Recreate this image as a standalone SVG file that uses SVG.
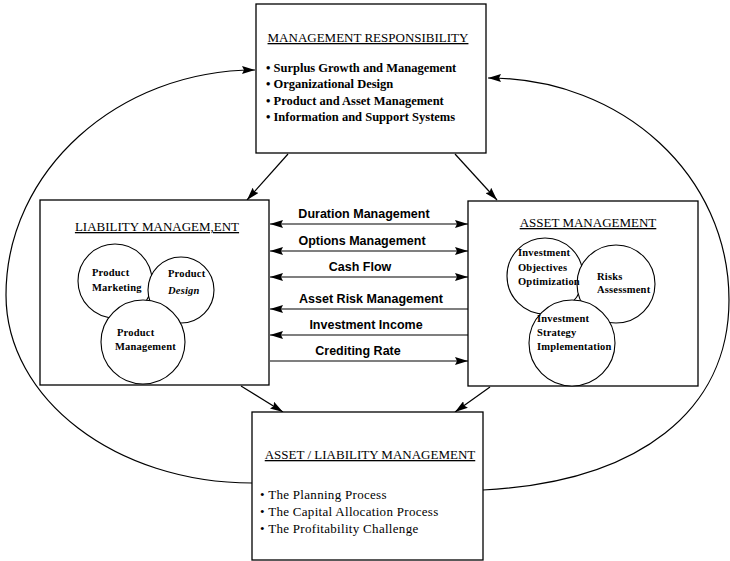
<svg xmlns="http://www.w3.org/2000/svg" width="730" height="561" viewBox="0 0 730 561">
<defs>
<marker id="ah" viewBox="0 0 13 8" refX="13" refY="4" markerWidth="13" markerHeight="8" markerUnits="userSpaceOnUse" orient="auto-start-reverse">
<path d="M0,0 L13,4 L0,8 L2,4 Z" fill="#000"/>
</marker>
<style>
.box{fill:#fff;stroke:#000;stroke-width:1.3}
.circ{fill:#fff;stroke:#000;stroke-width:1.1}
.ttl{font-family:"Liberation Serif",serif;font-size:13px;text-decoration:underline;fill:#000}
.bul{font-family:"Liberation Serif",serif;font-size:12.5px;font-weight:bold;fill:#000}
.bul2{font-family:"Liberation Serif",serif;font-size:13px;letter-spacing:0.3px;fill:#000}
.ct{font-family:"Liberation Serif",serif;font-size:10.5px;letter-spacing:0.2px;font-weight:bold;fill:#000}
.lbl{font-family:"Liberation Sans",Arial,sans-serif;font-size:12.5px;font-weight:bold;fill:#000;text-anchor:middle}
.ln{stroke:#000;stroke-width:1.2;fill:none}
</style>
</defs>
<rect width="730" height="561" fill="#fff"/>

<g id="connectors">
<path class="ln" d="M252,483 C116,483 6,399 6,295 C6,171 118,70 255,70" marker-end="url(#ah)"/>
<path class="ln" d="M483,490 C640,482 729,410 729,300 C729,176 623,78 488,78" marker-end="url(#ah)"/>
<line class="ln" x1="288" y1="154" x2="247" y2="200" marker-end="url(#ah)"/>
<line class="ln" x1="455" y1="154" x2="497" y2="200" marker-end="url(#ah)"/>
<line class="ln" x1="241" y1="386" x2="283" y2="412" marker-end="url(#ah)"/>
<line class="ln" x1="490" y1="387" x2="455" y2="412" marker-end="url(#ah)"/>
<line class="ln" x1="270" y1="224" x2="468" y2="224" marker-start="url(#ah)" marker-end="url(#ah)"/>
<line class="ln" x1="270" y1="251" x2="468" y2="251" marker-start="url(#ah)" marker-end="url(#ah)"/>
<line class="ln" x1="270" y1="277" x2="468" y2="277" marker-start="url(#ah)" marker-end="url(#ah)"/>
<line class="ln" x1="468" y1="309" x2="270" y2="309" marker-end="url(#ah)"/>
<line class="ln" x1="468" y1="335" x2="270" y2="335" marker-end="url(#ah)"/>
<line class="ln" x1="270" y1="361" x2="468" y2="361" marker-end="url(#ah)"/>
<text class="lbl" x="364" y="218">Duration Management</text>
<text class="lbl" x="362" y="245">Options Management</text>
<text class="lbl" x="360" y="271">Cash Flow</text>
<text class="lbl" x="371" y="303">Asset Risk Management</text>
<text class="lbl" x="366" y="329">Investment Income</text>
<text class="lbl" x="358" y="355">Crediting Rate</text>
</g>

<g id="management-responsibility">
<rect class="box" x="256" y="4" width="230" height="149"/>
<text class="ttl" x="368" y="42" text-anchor="middle">MANAGEMENT RESPONSIBILITY</text>
<text class="bul" x="266" y="72">• Surplus Growth and Management</text>
<text class="bul" x="266" y="88">• Organizational Design</text>
<text class="bul" x="266" y="105">•  Product and Asset Management</text>
<text class="bul" x="266" y="121">•  Information and Support Systems</text>
</g>

<g id="liability-management">
<rect class="box" x="40" y="200" width="229" height="185"/>
<text class="ttl" x="157" y="231" text-anchor="middle">LIABILITY MANAGEM,ENT</text>
<circle class="circ" cx="115" cy="281" r="37"/>
<circle class="circ" cx="181" cy="290" r="33"/>
<circle class="circ" cx="143" cy="342" r="42"/>
<text class="ct" x="92" y="276">Product</text>
<text class="ct" x="92" y="291">Marketing</text>
<text class="ct" x="168" y="277">Product</text>
<text class="ct" x="168" y="294" font-style="italic">Design</text>
<text class="ct" x="117" y="336">Product</text>
<text class="ct" x="115" y="350">Management</text>
</g>

<g id="asset-management">
<rect class="box" x="468" y="201" width="230" height="185"/>
<text class="ttl" x="588" y="227" text-anchor="middle">ASSET MANAGEMENT</text>
<circle class="circ" cx="545" cy="276" r="38"/>
<circle class="circ" cx="616" cy="284" r="39"/>
<circle class="circ" cx="572" cy="343" r="43"/>
<text class="ct" x="518" y="256">Investment</text>
<text class="ct" x="518" y="271">Objectives</text>
<text class="ct" x="518" y="285">Optimization</text>
<text class="ct" x="597" y="280">Risks</text>
<text class="ct" x="597" y="293">Assessment</text>
<text class="ct" x="537" y="322">Investment</text>
<text class="ct" x="537" y="336">Strategy</text>
<text class="ct" x="537" y="350">Implementation</text>
</g>

<g id="asset-liability-management">
<rect class="box" x="252" y="412" width="231" height="148"/>
<text class="ttl" x="370" y="459" text-anchor="middle">ASSET / LIABILITY MANAGEMENT</text>
<text class="bul2" x="260" y="499">•  The Planning Process</text>
<text class="bul2" x="260" y="516">•  The Capital Allocation Process</text>
<text class="bul2" x="260" y="533">•  The Profitability Challenge</text>
</g>
</svg>
